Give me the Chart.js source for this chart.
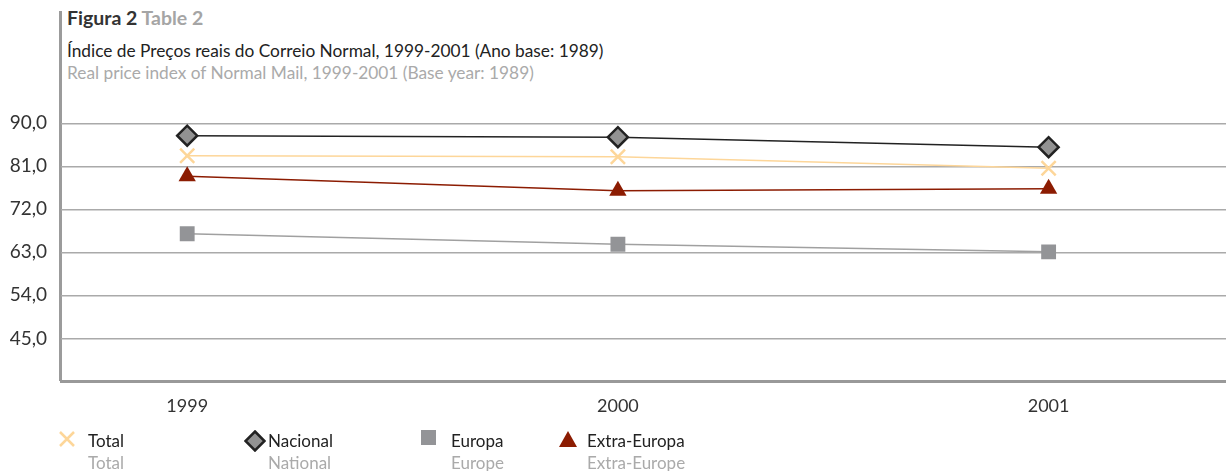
<!DOCTYPE html>
<html>
<head>
<meta charset="utf-8">
<script src="https://cdn.jsdelivr.net/npm/chart.js@4.4.1/dist/chart.umd.min.js"></script>
<style>
  body { margin: 0; background: #fff; font-family: Lato, "Open Sans", sans-serif; }
  #page { position: relative; width: 1226px; height: 471px; overflow: hidden; }
  #vline { position: absolute; left: 59px; top: 11px; width: 3px; height: 370px; background: #9b9b9b; }
  .t { position: absolute; left: 67px; white-space: nowrap; }
  #fig { top: 6px; font-size: 19.5px; font-weight: bold; color: #333; }
  #fig span { color: #a5a5a5; }
  #pt { top: 40px; font-size: 17.3px; color: #222; }
  #en { top: 62px; font-size: 17.3px; color: #aaa; }
  #box { position: absolute; left: 0; top: 85px; width: 1239px; height: 346px; }
  .lg { position: absolute; top: 430px; font-size: 17px; line-height: 22px; color: #222; white-space: nowrap; }
  .lg .en { color: #aaa; }
  .mk { position: absolute; }
</style>
</head>
<body>
<div id="page">
  <div id="vline"></div>
  <div class="t" id="fig">Figura 2 <span>Table 2</span></div>
  <div class="t" id="pt">Índice de Preços reais do Correio Normal, 1999-2001 (Ano base: 1989)</div>
  <div class="t" id="en">Real price index of Normal Mail, 1999-2001 (Base year: 1989)</div>
  <div id="box"><canvas id="c"></canvas></div>
  <div id="legend"></div>
</div>
<script>
// dados
const years = ["1999", "2000", "2001"];
const yearValues = [1999, 2000, 2001];
const yTicks = [45, 54, 63, 72, 81, 90];

const namesPt = ["Total", "Nacional", "Europa", "Extra-Europa"];
const namesEn = ["Total", "National", "Europe", "Extra-Europe"];

const total = [83.2, 83.0, 80.6];
const nacional = [87.4, 87.1, 85.0];
const europa = [66.9, 64.7, 63.1];
const extraEuropa = [78.9, 75.9, 76.3];

const toPoints = arr => arr.map((v, i) => ({ x: yearValues[i], y: v }));

const fontFam = 'Lato, "Open Sans", sans-serif';

new Chart(document.getElementById("c"), {
    type: "line",
    data: {
        datasets: [
            {
                label: namesPt[1], data: toPoints(nacional),
                borderColor: "#222", borderWidth: 1.5,
                pointStyle: "rectRot", pointRadius: 10,
                pointBackgroundColor: "#929292", pointBorderColor: "#222", pointBorderWidth: 2.5
            },
            {
                label: namesPt[0], data: toPoints(total),
                borderColor: "#fdd699", borderWidth: 1.5,
                pointStyle: "crossRot", pointRadius: 10,
                pointBorderColor: "#fdd699", pointBorderWidth: 2.5
            },
            {
                label: namesPt[3], data: toPoints(extraEuropa),
                borderColor: "#8c1c02", borderWidth: 1.5,
                pointStyle: "triangle", pointRadius: 10,
                pointBackgroundColor: "#8c1c02", pointBorderColor: "#8c1c02", pointBorderWidth: 0
            },
            {
                label: namesPt[2], data: toPoints(europa),
                borderColor: "#a0a0a0", borderWidth: 1.5,
                pointStyle: "rect", pointRadius: 10.5,
                pointBackgroundColor: "#939497", pointBorderColor: "#939497", pointBorderWidth: 0
            }
        ]
    },
    options: {
        responsive: true,
        maintainAspectRatio: false,
        animation: false,
        layout: { padding: { top: 10, right: 0 } },
        plugins: { legend: { display: false }, tooltip: { enabled: false } },
        scales: {
            x: {
                type: "linear",
                min: 1998.707,
                max: 2001.413,
                afterBuildTicks: s => { s.ticks = yearValues.map(v => ({ value: v })); },
                grid: { display: false, drawTicks: false },
                border: { color: "#999", width: 3 },
                ticks: {
                    padding: 14,
                    color: "#333",
                    font: { family: fontFam, size: 18 },
                    callback: (v, i) => years[i]
                }
            },
            y: {
                min: 36,
                max: 92.7,
                afterFit: s => { s.width = 61; },
                afterBuildTicks: s => { s.ticks = yTicks.map(v => ({ value: v })); },
                grid: { color: "#aaa", lineWidth: 1.5, drawTicks: false },
                border: { display: false },
                ticks: {
                    padding: 14,
                    color: "#333",
                    font: { family: fontFam, size: 19 },
                    callback: v => v.toFixed(1).replace(".", ",")
                }
            }
        }
    }
});

// legenda em duas línguas
const markers = [
    '<svg width="18" height="18"><path d="M2 2L16 16M16 2L2 16" stroke="#fdd699" stroke-width="2.5"/></svg>',
    '<svg width="22" height="22"><path d="M11 1.5L20.5 11L11 20.5L1.5 11Z" fill="#929292" stroke="#222" stroke-width="2.5"/></svg>',
    '<svg width="16" height="16"><rect x="0" y="0" width="15" height="15" fill="#939497"/></svg>',
    '<svg width="20" height="18"><path d="M10 1L19 17H1Z" fill="#8c1c02"/></svg>'
];
const mkPos = [[58, 430], [244, 430], [421, 430], [558, 430]];
const txtX = [88, 268, 451, 587];
const legend = document.getElementById("legend");
namesPt.forEach((n, i) => {
    const m = document.createElement("div");
    m.className = "mk";
    m.style.left = mkPos[i][0] + "px";
    m.style.top = mkPos[i][1] + "px";
    m.innerHTML = markers[i];
    legend.appendChild(m);
    const t = document.createElement("div");
    t.className = "lg";
    t.style.left = txtX[i] + "px";
    t.innerHTML = n + '<br><span class="en">' + namesEn[i] + "</span>";
    legend.appendChild(t);
});
</script>
</body>
</html>
